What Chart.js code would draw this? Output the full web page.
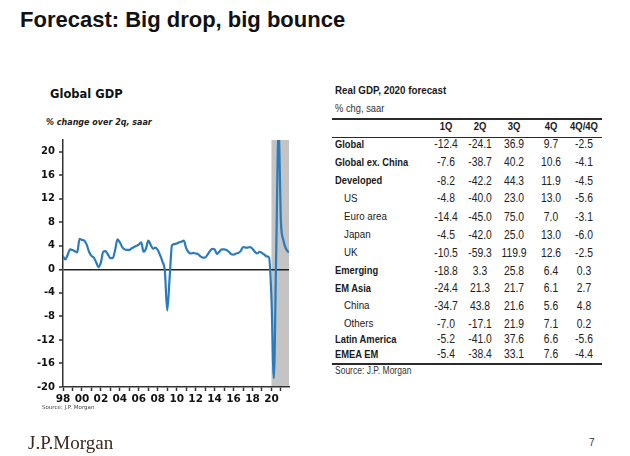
<!DOCTYPE html>
<html><head><meta charset="utf-8">
<script src="https://cdn.jsdelivr.net/npm/chart.js@4.4.1/dist/chart.umd.min.js"></script>
<style>
html,body{margin:0;padding:0;background:#fff;}
body{width:630px;height:456px;position:relative;overflow:hidden;font-family:"Liberation Sans",Arial,sans-serif;color:#1a1a1a;}
.abs{position:absolute;white-space:nowrap;line-height:1;}
#title{left:20px;top:9px;font-size:22px;font-weight:bold;color:#111;}
#ctitle{left:50px;top:88.5px;font:bold 11.5px "DejaVu Sans",sans-serif;line-height:1;color:#111;}
#csub{left:46px;top:119px;font:italic bold 8px "DejaVu Sans",sans-serif;line-height:1;color:#222;}
#csrc{left:42px;top:405px;font:5.5px "DejaVu Sans",sans-serif;line-height:1;color:#444;}
#chartBox{position:absolute;left:20px;top:130px;width:275px;height:280px;}
.tb{font-family:"Liberation Sans",Arial,sans-serif;}
.nar{transform:scaleX(0.85);transform-origin:0 50%;}
#ttitle{left:335px;top:84.5px;font-size:11.5px;font-weight:bold;}
#tsub{left:335px;top:103px;font-size:11px;color:#333;}
.rule{position:absolute;left:332px;width:270px;background:#2a2a2a;}
.lbl{position:absolute;font-size:11px;font-weight:bold;line-height:1;white-space:nowrap;transform:scaleX(0.85);transform-origin:0 50%;}
.lbl.ind{font-weight:normal;font-size:11.5px;}
.num{position:absolute;width:60px;text-align:center;font-size:12px;line-height:1;white-space:nowrap;color:#222;transform:scaleX(0.86);transform-origin:50% 50%;}
.hdr{position:absolute;width:60px;text-align:center;font-size:11px;font-weight:bold;line-height:1;transform:scaleX(0.86);transform-origin:50% 50%;}
#tsrc{left:335px;top:366px;font-size:10px;color:#333;}
#logo{left:28px;top:433px;font-family:"Liberation Serif","Times New Roman",serif;font-size:19px;color:#3b2a1e;letter-spacing:0px;}
#page{left:589px;top:438px;font-size:10px;color:#333;}
</style>
</head>
<body>
<div id="title" class="abs">Forecast: Big drop, big bounce</div>
<div id="ctitle" class="abs">Global GDP</div>
<div id="csub" class="abs">% change over 2q, saar</div>
<div id="chartBox"><canvas id="c" width="275" height="280"></canvas></div>
<div id="csrc" class="abs">Source: J.P. Morgan</div>

<div id="ttitle" class="abs tb nar">Real GDP, 2020 forecast</div>
<div id="tsub" class="abs tb nar">% chg, saar</div>
<div id="table" class="tb"></div>
<div id="tsrc" class="abs tb nar">Source: J.P. Morgan</div>

<div id="logo" class="abs">J.P.Morgan</div>
<div id="page" class="abs">7</div>

<script>
// ---------- chart data ----------
const firstYear = 1998;                 // first quarter = 1998Q1
const gdpGrowth = [                     // quarterly, % change over 2q, saar
  2.2, 1.7, 2.5, 3.4,   3.3, 3.1, 2.9, 5.2,   5.0, 4.9, 4.2, 3.0,
  2.3, 2.0, 1.2, 0.4,   1.2, 3.0, 3.1, 2.5,   1.9, 1.9, 3.3, 5.1,
  4.6, 3.8, 3.4, 3.3,   3.3, 3.6, 3.8, 4.0,   4.2, 4.6, 3.0, 3.5,
  4.9, 4.2, 3.5, 3.7,   3.3, 2.4, 1.3, -0.3,  -7.0, -1.5, 4.1, 4.3,
  4.4, 4.6, 4.7, 4.9,   3.6, 2.9, 2.7, 2.8,   2.7, 2.6, 2.2, 2.0,
  2.0, 2.5, 3.1, 3.5,   3.4, 2.6, 3.0, 3.4,   3.4, 3.3, 3.0, 2.6,
  2.5, 2.7, 2.8, 3.1,   3.8, 3.7, 3.7, 3.8,   3.5, 3.0, 2.7, 3.0,
  2.8, 2.5, 2.2, 2.0,   -5.0, -18.5, 3.0, 24.0, 8.0, 5.0, 3.6, 3.0
];
const xTickYears = [1998,1999,2000,2001,2002,2003,2004,2005,2006,2007,2008,2009,
                    2010,2011,2012,2013,2014,2015,2016,2017,2018,2019,2020,2021];
const yTickValues = [-20,-16,-12,-8,-4,0,4,8,12,16,20];
const forecastStart = 2020;             // shaded forecast period begins
const xRange = [1998, 2021.85];
const yRange = [-20, 22];

// ---------- table data ----------
const tableCols = ['1Q','2Q','3Q','4Q','4Q/4Q'];
const rowLabels = ['Global','Global ex. China','Developed','US','Euro area','Japan','UK',
                   'Emerging','EM Asia','China','Others','Latin America','EMEA EM'];
const rowIndented = [false,false,false,true,true,true,true,false,false,true,true,false,false];
const q1   = ['-12.4','-7.6','-8.2','-4.8','-14.4','-4.5','-10.5','-18.8','-24.4','-34.7','-7.0','-5.2','-5.4'];
const q2   = ['-24.1','-38.7','-42.2','-40.0','-45.0','-42.0','-59.3','3.3','21.3','43.8','-17.1','-41.0','-38.4'];
const q3   = ['36.9','40.2','44.3','23.0','75.0','25.0','119.9','25.8','21.7','21.6','21.9','37.6','33.1'];
const q4   = ['9.7','10.6','11.9','13.0','7.0','13.0','12.6','6.4','6.1','5.6','7.1','6.6','7.6'];
const q4q4 = ['-2.5','-4.1','-4.5','-5.6','-3.1','-6.0','-2.5','0.3','2.7','4.8','0.2','-5.6','-4.4'];

// ---------- table layout ----------
(function(){
  const host = document.getElementById('table');
  const colX = [446, 480, 514, 551, 584];
  const rowY = [144.3,162.3,180.5,198.3,216.5,234.8,252.5,270.5,288.3,306,324,339,354];
  function rule(top, h){ const d=document.createElement('div'); d.className='rule'; d.style.top=top+'px'; d.style.height=h+'px'; host.appendChild(d); }
  rule(118, 2); rule(136.5, 1.5); rule(363, 2);
  tableCols.forEach((t,i)=>{ const d=document.createElement('div'); d.className='hdr'; d.textContent=t;
    d.style.left=(colX[i]-30)+'px'; d.style.top=(126-5.5)+'px'; host.appendChild(d); });
  const cols=[q1,q2,q3,q4,q4q4];
  rowLabels.forEach((lab,r)=>{
    const l=document.createElement('div'); l.className='lbl'+(rowIndented[r]?' ind':''); l.textContent=lab;
    l.style.left=(rowIndented[r]?344:335)+'px'; l.style.top=(rowY[r]-(rowIndented[r]?5.75:5.5))+'px'; host.appendChild(l);
    cols.forEach((col,c)=>{ const d=document.createElement('div'); d.className='num'; d.textContent=col[r];
      d.style.left=(colX[c]-30)+'px'; d.style.top=(rowY[r]-6)+'px'; host.appendChild(d); });
  });
})();

// ---------- chart ----------
const points = gdpGrowth.map((v,i)=>({x: firstYear + i/4, y: v}));
const shadePlugin = {
  id:'shade',
  beforeDraw(chart){
    const {ctx, chartArea:a, scales:{x}} = chart;
    const x0 = x.getPixelForValue(forecastStart);
    ctx.save(); ctx.fillStyle='#c4c4c4';
    ctx.fillRect(x0, a.top, a.right - x0, a.bottom - a.top);
    ctx.restore();
  }
};
const tickFont = {family:'DejaVu Sans', weight:'bold', size:10};
new Chart(document.getElementById('c'), {
  type:'line',
  data:{datasets:[{data:points, borderColor:'#2a7bbb', borderWidth:2.2, pointRadius:0,
    cubicInterpolationMode:'monotone', borderJoinStyle:'round', borderCapStyle:'round'}]},
  options:{
    responsive:false, animation:false, events:[],
    layout:{padding:{top:10,right:6,left:0,bottom:0}},
    plugins:{legend:{display:false}, tooltip:{enabled:false}},
    scales:{
      x:{type:'linear', min:xRange[0], max:xRange[1],
        afterBuildTicks: ax => { ax.ticks = xTickYears.map(v=>({value:v})); },
        afterFit: ax => { ax.height = 23; },
        ticks:{autoSkip:false, maxRotation:0, padding:2, color:'#111', font:{family:'DejaVu Sans', weight:'bold', size:10.5},
          callback: v => (v % 2 === 0 ? String(v).slice(2) : '')},
        grid:{drawOnChartArea:false, drawTicks:true, tickLength:4, tickColor:'#333', tickWidth:1.5},
        border:{display:true, color:'#333', width:1.5}
      },
      y:{min:yRange[0], max:yRange[1],
        afterBuildTicks: ax => { ax.ticks = yTickValues.map(v=>({value:v})); },
        afterFit: ax => { ax.width = 43; },
        ticks:{padding:4, color:'#111', font:tickFont},
        grid:{drawOnChartArea:true, drawTicks:true, tickLength:4, tickColor:'#333', tickWidth:1.5,
          color: c => (c.tick && c.tick.value === 0 ? '#222' : 'rgba(0,0,0,0)'),
          lineWidth: c => (c.tick && c.tick.value === 0 ? 1.5 : 0)},
        border:{display:true, color:'#333', width:1.5}
      }
    }
  },
  plugins:[shadePlugin]
});
</script>
</body></html>
